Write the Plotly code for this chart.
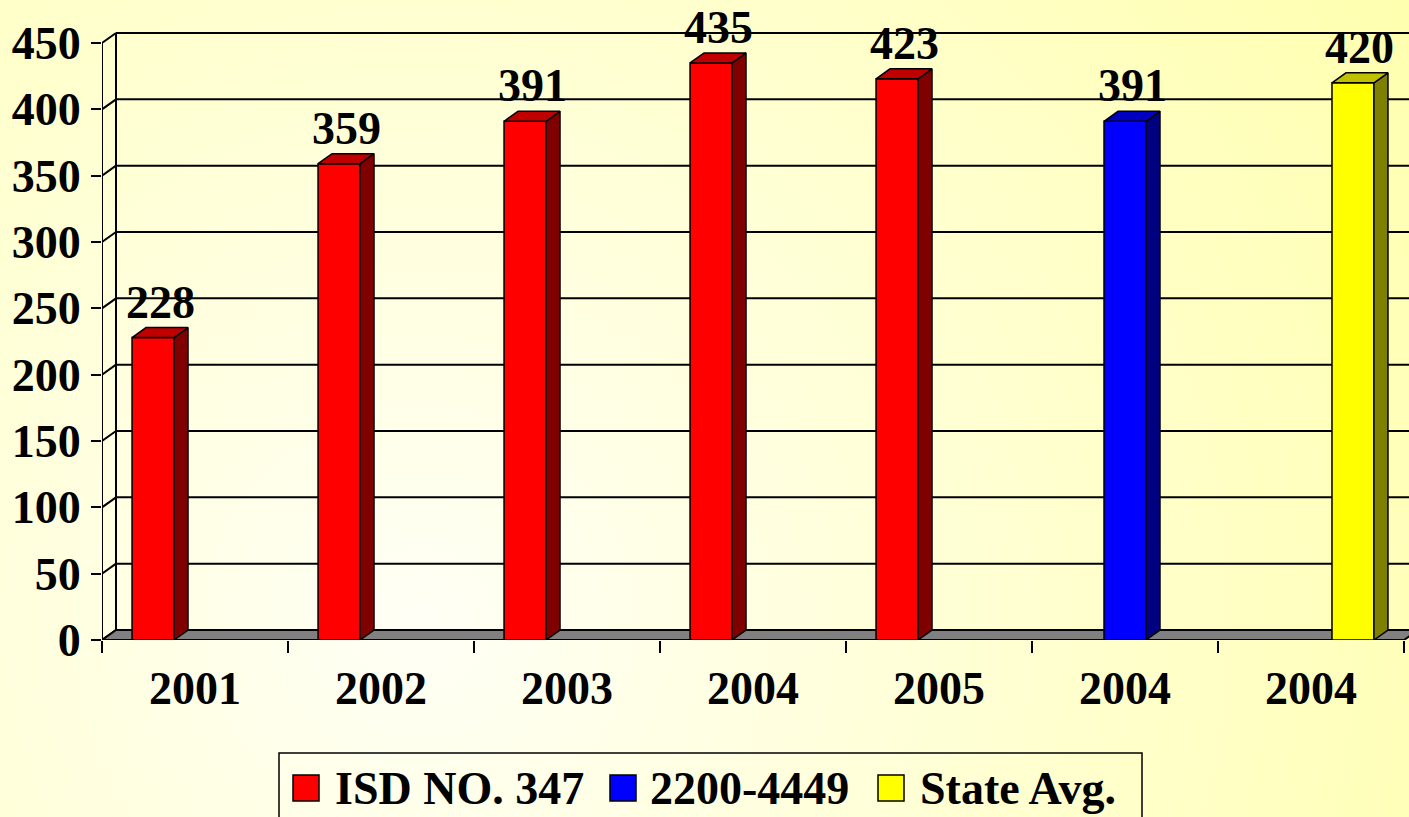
import base64
import plotly.graph_objects as go

# ---------------- data ----------------
categories = ["2001", "2002", "2003", "2004", "2005", "2004", "2004"]
isd_values = [228, 359, 391, 435, 423, None, None]
band_values = [None, None, None, None, None, 391, None]
state_values = [None, None, None, None, None, None, 420]
series_names = ["ISD NO. 347", "2200-4449", "State Avg."]
y_ticks = [0, 50, 100, 150, 200, 250, 300, 350, 400, 450]

# ---------------- styles ----------------
front_colors = ["#FF0000", "#0000FF", "#FFFF00"]
side_colors = ["#800000", "#000080", "#808000"]
top_colors = ["#C00000", "#0000C0", "#C0C000"]
FONT = "Liberation Serif, Times New Roman, serif"
W, H = 1409, 817
ML, MR, MT, MB = 102, 0, 0, 177
PW, PH = W - ML - MR, H - MT - MB
PX_PER_CAT = 186.0
PX_PER_VAL = 597.0 / 450.0
X0 = -0.5
XR = X0 + PW / PX_PER_CAT
YR = PH / PX_PER_VAL
DX = 14 / PX_PER_CAT      # depth offset in x units
DY = 10 / PX_PER_VAL      # depth offset in y units
BARGAP = 0.323
n_series = 3
group_w = 1 - BARGAP
bw = group_w / n_series

all_series = [isd_values, band_values, state_values]
xs = list(range(len(categories)))

fig = go.Figure()

# front faces of the columns
for k, vals in enumerate(all_series):
    fig.add_trace(go.Bar(
        x=xs, y=vals, name=series_names[k],
        marker=dict(color=front_colors[k], line=dict(color="black", width=1.5)),
        showlegend=False, hoverinfo="skip"))

# side and top faces (pseudo-3D)
for k, vals in enumerate(all_series):
    off = -group_w / 2 + bw * (k + 0.5)
    sx, sy, tx, ty = [], [], [], []
    for i, v in enumerate(vals):
        if v is None:
            continue
        xl = xs[i] + off - bw / 2
        xr = xs[i] + off + bw / 2
        sx += [xr, xr + DX, xr + DX, xr, xr, None]
        sy += [0, DY, v + DY, v, 0, None]
        tx += [xl, xr, xr + DX, xl + DX, xl, None]
        ty += [v, v, v + DY, v + DY, v, None]
    fig.add_trace(go.Scatter(x=sx, y=sy, mode="lines", fill="toself",
                             fillcolor=side_colors[k], line=dict(color="black", width=1.5),
                             showlegend=False, hoverinfo="skip"))
    fig.add_trace(go.Scatter(x=tx, y=ty, mode="lines", fill="toself",
                             fillcolor=top_colors[k], line=dict(color="black", width=1.5),
                             showlegend=False, hoverinfo="skip"))
    for i, v in enumerate(vals):
        if v is None:
            continue
        fig.add_annotation(x=xs[i] + off + DX / 2, y=v + DY, text=str(v),
                           showarrow=False, yanchor="bottom", xanchor="center", yshift=-2,
                           font=dict(family=FONT, size=46, color="black", weight="bold"))

# ---------------- walls, gridlines, floor ----------------
shapes = []
line_k = dict(color="black", width=2)
for v in y_ticks:
    shapes.append(dict(type="line", xref="x", yref="y", layer="below",
                       x0=X0 + DX, x1=len(categories) - 0.5 + DX, y0=v + DY, y1=v + DY, line=line_k))
    shapes.append(dict(type="line", xref="x", yref="y", layer="below",
                       x0=X0, x1=X0 + DX, y0=v, y1=v + DY, line=line_k))
shapes.append(dict(type="line", xref="x", yref="y", layer="below",
                   x0=X0 + DX, x1=X0 + DX, y0=DY, y1=y_ticks[-1] + DY, line=line_k))
shapes.append(dict(type="line", xref="x", yref="y", layer="below",
                   x0=X0, x1=X0, y0=0, y1=y_ticks[-1], line=line_k))
xe = len(categories) - 0.5
shapes.append(dict(type="path", xref="x", yref="y", layer="below",
                   path=f"M {X0},0 L {xe},0 L {xe + DX},{DY} L {X0 + DX},{DY} Z",
                   fillcolor="#808080", line=dict(color="black", width=2)))

# ---------------- manual legend ----------------
def px(xp):
    return (xp - ML) / PW

def py(yp):
    return (MT + PH - yp) / PH

shapes.append(dict(type="rect", xref="paper", yref="paper", layer="above",
                   x0=px(279), x1=px(1142), y0=py(753), y1=py(840),
                   line=dict(color="black", width=1.5), fillcolor="rgba(0,0,0,0)"))
leg_sq_x = [293, 610, 878]
leg_txt_x = [333, 648, 918]
for k in range(n_series):
    shapes.append(dict(type="rect", xref="paper", yref="paper", layer="above",
                       x0=px(leg_sq_x[k]), x1=px(leg_sq_x[k] + 26), y0=py(775), y1=py(801),
                       fillcolor=front_colors[k], line=dict(color="black", width=1.5)))
    fig.add_annotation(xref="paper", yref="paper", x=px(leg_txt_x[k]), y=py(788),
                       text=series_names[k], showarrow=False, xanchor="left", yanchor="middle",
                       font=dict(family=FONT, size=46, color="black", weight="bold"))

# ---------------- background gradient ----------------
svg = f'''<svg xmlns="http://www.w3.org/2000/svg" width="{W}" height="{H}" viewBox="0 0 {W} {H}" preserveAspectRatio="none">
<defs><radialGradient id="g" gradientUnits="userSpaceOnUse" cx="420" cy="620" r="1160">
<stop offset="0" stop-color="#FFFFF6"/><stop offset="1" stop-color="#FFFFB0"/></radialGradient></defs>
<rect width="{W}" height="{H}" fill="url(#g)"/></svg>'''
src = "data:image/svg+xml;base64," + base64.b64encode(svg.encode()).decode()

fig.update_layout(
    width=W, height=H,
    margin=dict(l=ML, r=MR, t=MT, b=MB, pad=0),
    paper_bgcolor="#FFFFDC", plot_bgcolor="rgba(0,0,0,0)",
    barmode="group", bargap=BARGAP, bargroupgap=0,
    showlegend=False,
    shapes=shapes,
    images=[dict(source=src, xref="paper", yref="paper", x=-ML / PW, y=1 + MT / PH,
                 sizex=W / PW, sizey=H / PH, xanchor="left", yanchor="top",
                 sizing="stretch", layer="below")],
    font=dict(family=FONT, size=46, color="black"),
    xaxis=dict(range=[X0, XR], tickmode="array", tickvals=xs, ticktext=categories,
               showgrid=False, zeroline=False, showline=False, ticks="", ticklabelstandoff=17,
               tickfont=dict(family=FONT, size=46, color="black", weight="bold"),
               minor=dict(tickmode="array", tickvals=[X0 + i for i in range(len(categories) + 1)],
                          ticks="outside", ticklen=12, tickwidth=2, tickcolor="black", showgrid=False),
               fixedrange=True),
    yaxis=dict(range=[0, YR], tickmode="array", tickvals=y_ticks,
               showgrid=False, zeroline=False, showline=False,
               ticks="outside", ticklen=10, tickwidth=2, tickcolor="black", ticklabelstandoff=1,
               tickfont=dict(family=FONT, size=46, color="black", weight="bold"),
               fixedrange=True),
)

fig.write_html("out.html", config={"displayModeBar": False},
               post_script="document.body.style.margin='0';document.body.style.overflow='hidden';")
